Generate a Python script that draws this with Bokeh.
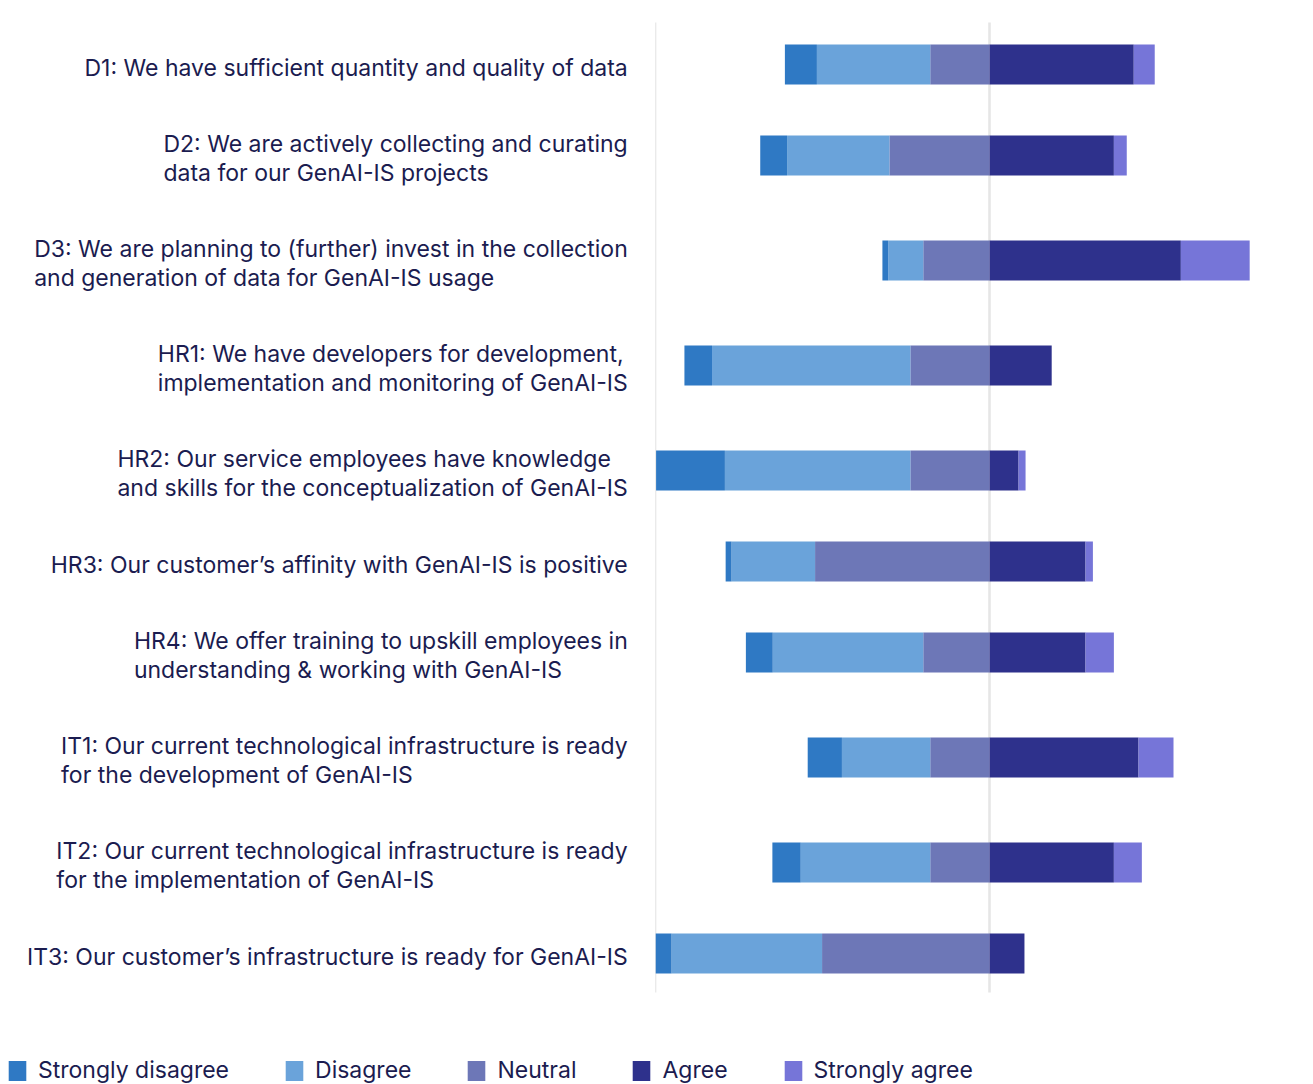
from bokeh.plotting import figure
from bokeh.models import ColumnDataSource, Range1d, Legend, LegendItem
from bokeh.core.properties import value
from bokeh.embed import file_html
from bokeh.resources import INLINE
import numpy as np

# ---------------- data ----------------
labels = [
    "D1: We have sufficient quantity and quality of data",
    "D2: We are actively collecting and curating\ndata for our GenAI-IS projects",
    "D3: We are planning to (further) invest in the collection\nand generation of data for GenAI-IS usage",
    "HR1: We have developers for development,\nimplementation and monitoring of GenAI-IS",
    "HR2: Our service employees have knowledge\nand skills for the conceptualization of GenAI-IS",
    "HR3: Our customer\u2019s affinity with GenAI-IS is positive",
    "HR4: We offer training to upskill employees in\nunderstanding & working with GenAI-IS",
    "IT1: Our current technological infrastructure is ready\nfor the development of GenAI-IS",
    "IT2: Our current technological infrastructure is ready\nfor the implementation of GenAI-IS",
    "IT3: Our customer\u2019s infrastructure is ready for GenAI-IS",
]
strongly_disagree = [8.7, 7.3, 1.6, 7.5, 18.7, 1.6, 7.3, 9.3, 7.7, 4.3]
disagree          = [30.8, 27.8, 9.5, 53.9, 50.4, 22.7, 40.9, 24.0, 35.2, 40.9]
neutral           = [16.1, 27.2, 18.0, 21.5, 21.5, 47.4, 18.0, 16.1, 16.1, 45.5]
agree             = [39.2, 33.8, 52.0, 16.9, 7.9, 26.1, 26.1, 40.5, 33.8, 9.5]
strongly_agree    = [5.7, 3.5, 18.7, 0.0, 1.9, 2.0, 7.7, 9.5, 7.6, 0.0]
legend_names = ["Strongly disagree", "Disagree", "Neutral", "Agree", "Strongly agree"]

# ---------------- style / layout ----------------
C_SD, C_D, C_N, C_A, C_SA = "#2f79c4", "#6aa3da", "#6d77b7", "#2e318c", "#7675d8"
NAVY = "#1b1c50"
FONT = "Inter"
W, H = 1313, 1084
PX_PER = 3.68          # pixels per percent
ZERO = 989             # frame pixel of 0 %
ROW_BASE, LINE_STEP = 49, 28
TOP0 = 25.5
BAR_H = 40

n_lines = [len(s.split("\n")) for s in labels]
heights = [ROW_BASE + LINE_STEP * k for k in n_lines]
tops = TOP0 + np.concatenate([[0], np.cumsum(heights)[:-1]])
centers = list(tops + np.array(heights) / 2.0)
region_top = TOP0 - 3.5
region_bottom = TOP0 + sum(heights) + 0.5

sd = np.array(strongly_disagree); d = np.array(disagree); n = np.array(neutral)
src = ColumnDataSource(dict(
    y=centers,
    n_neg=list(-n), d_neg=list(-d), sd_neg=list(-sd),
    a=agree, sa=strongly_agree,
))
left_edge = -float(np.max(sd + d + n))

p = figure(width=W, height=H,
           x_range=Range1d(-ZERO / PX_PER, (W - ZERO) / PX_PER),
           y_range=Range1d(H, 0),
           output_backend="svg", toolbar_location=None,
           min_border=0, min_border_left=0, min_border_right=0,
           min_border_top=0, min_border_bottom=0)
p.axis.visible = False
p.grid.visible = False
p.outline_line_color = None
p.background_fill_color = "white"

# guide lines
p.segment(x0=[left_edge], y0=[region_top], x1=[left_edge], y1=[region_bottom],
          line_color="#e9e9e9", line_width=1.3)
p.segment(x0=[0], y0=[region_top], x1=[0], y1=[region_bottom],
          line_color="#e6e6e6", line_width=2.6)

neg = p.hbar_stack(["n_neg", "d_neg", "sd_neg"], y="y", height=BAR_H, source=src,
                   fill_color=[C_N, C_D, C_SD], line_color=None)
pos = p.hbar_stack(["a", "sa"], y="y", height=BAR_H, source=src,
                   fill_color=[C_A, C_SA], line_color=None)

# category labels
p.text(x=[left_edge] * len(labels), y=centers, text=labels,
       x_offset=-28, y_offset=3,
       anchor=value("center_right"), text_align="left", text_baseline="middle",
       text_font=value(FONT), text_font_size="23px", text_color=NAVY,
       text_line_height=1.07)

rmap = {"Strongly disagree": neg[2], "Disagree": neg[1], "Neutral": neg[0],
        "Agree": pos[0], "Strongly agree": pos[1]}
legend = Legend(items=[LegendItem(label=nm, renderers=[rmap[nm]]) for nm in legend_names],
                orientation="horizontal", location=(6, 0),
                spacing=54, glyph_width=22, glyph_height=25, label_height=25,
                label_standoff=10, padding=0, margin=0,
                border_line_color=None, background_fill_alpha=0,
                label_text_font=FONT, label_text_font_size="23px",
                label_text_color=NAVY)
p.add_layout(legend)

open("out.html", "w").write(file_html(p, INLINE))
